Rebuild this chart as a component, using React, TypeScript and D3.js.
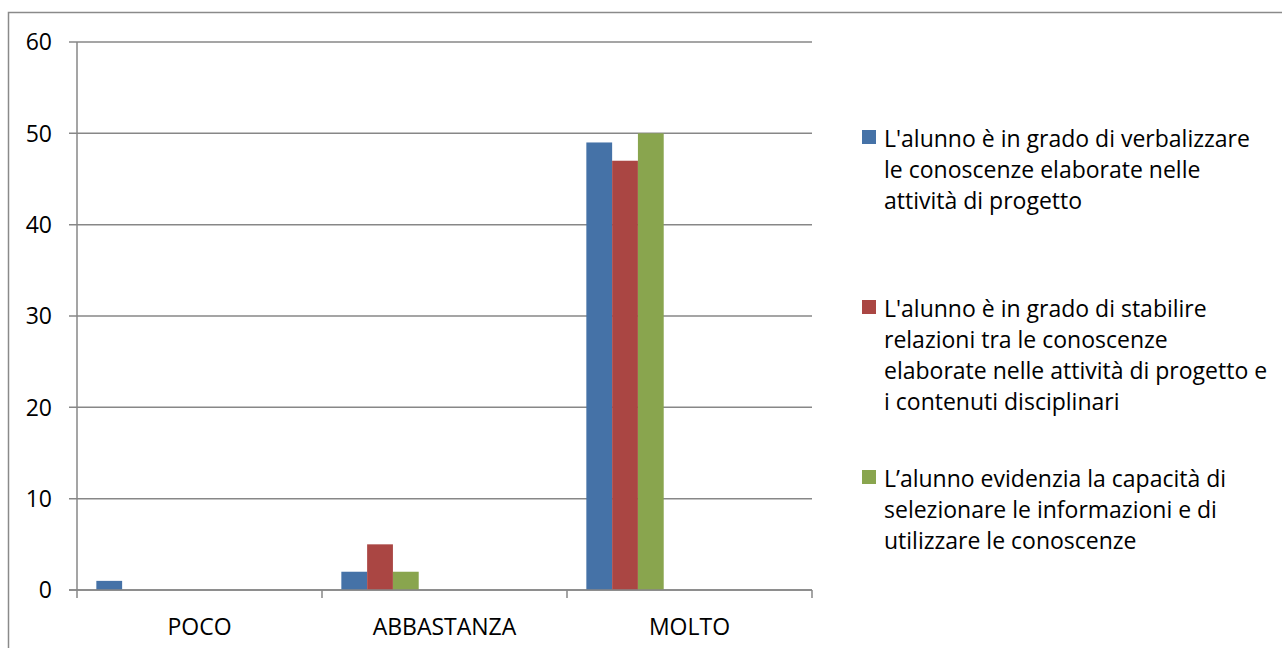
import React from "react";
import * as d3 from "d3";

const categories = ["POCO", "ABBASTANZA", "MOLTO"];
const seriesNames = [
  ["L'alunno è in grado di verbalizzare", "le conoscenze elaborate nelle", "attività di progetto"],
  ["L'alunno è in grado di stabilire", "relazioni tra le conoscenze", "elaborate nelle attività di progetto e", "i contenuti disciplinari"],
  ["L’alunno evidenzia la capacità di", "selezionare le informazioni e di", "utilizzare le conoscenze"],
];
const seriesValues = [
  [1, 2, 49],
  [0, 5, 47],
  [0, 2, 50],
];
const colors = ["#4572A7", "#AA4643", "#89A54E"];
const yTicks = [0, 10, 20, 30, 40, 50, 60];

const W = 1282;
const H = 648;
const FONT = "'Open Sans', sans-serif";
const FS = 23;
const textStyle = { fontVariantLigatures: "none" } as React.CSSProperties;

export default function App() {
  const left = 77, right = 812, top = 42, bottom = 590;
  const y = d3.scaleLinear().domain([0, 60]).range([bottom, top]);
  const x0 = d3.scaleBand<string>().domain(categories).range([left, right]).padding(0);
  const x1 = d3
    .scaleBand<number>()
    .domain(d3.range(8))
    .range([0, x0.bandwidth()])
    .paddingInner(0)
    .paddingOuter(0.75);
  const grid = "#878787";
  const bounds = [left, ...categories.map((c) => (x0(c) as number) + x0.bandwidth())];

  return (
    <svg width={W} height={H} style={{ position: "absolute", left: 0, top: 0, background: "#fff" }}>
      <rect x={8.5} y={12.5} width={1400} height={800} fill="none" stroke="#8a8a8a" strokeWidth={1.5} />
      {yTicks.map((t) => (
        <g key={t}>
          <line x1={69} x2={right} y1={y(t)} y2={y(t)} stroke={grid} strokeWidth={1.5} />
          <text x={52} y={y(t)} dy="0.36em" textAnchor="end" fontFamily={FONT} fontSize={FS} fill="#000" style={textStyle}>
            {t}
          </text>
        </g>
      ))}
      <line x1={left} x2={left} y1={top} y2={598} stroke={grid} strokeWidth={1.5} />
      {bounds.slice(1).map((b, i) => (
        <line key={i} x1={b} x2={b} y1={bottom} y2={598} stroke={grid} strokeWidth={1.5} />
      ))}
      {seriesValues.map((vals, si) =>
        vals.map((v, ci) =>
          v > 0 ? (
            <rect
              key={`${si}-${ci}`}
              x={(x0(categories[ci]) as number) + (x1(si) as number)}
              y={y(v)}
              width={x1.bandwidth()}
              height={y(0) - y(v)}
              fill={colors[si]}
            />
          ) : null
        )
      )}
      <line x1={69} x2={right} y1={bottom} y2={bottom} stroke={grid} strokeWidth={1.5} />
      {categories.map((c) => (
        <text
          key={c}
          x={(x0(c) as number) + x0.bandwidth() / 2}
          y={635}
          textAnchor="middle"
          fontFamily={FONT}
          fontSize={FS}
          fill="#000"
          style={textStyle}
        >
          {c}
        </text>
      ))}
      {seriesNames.map((lines, i) => {
        const base = 147 + i * 170;
        return (
          <g key={i}>
            <rect x={862} y={base - 17} width={14} height={14} fill={colors[i]} />
            {lines.map((ln, j) => (
              <text key={j} x={884} y={base + j * 31} fontFamily={FONT} fontSize={FS} fill="#000" style={textStyle}>
                {ln}
              </text>
            ))}
          </g>
        );
      })}
    </svg>
  );
}
